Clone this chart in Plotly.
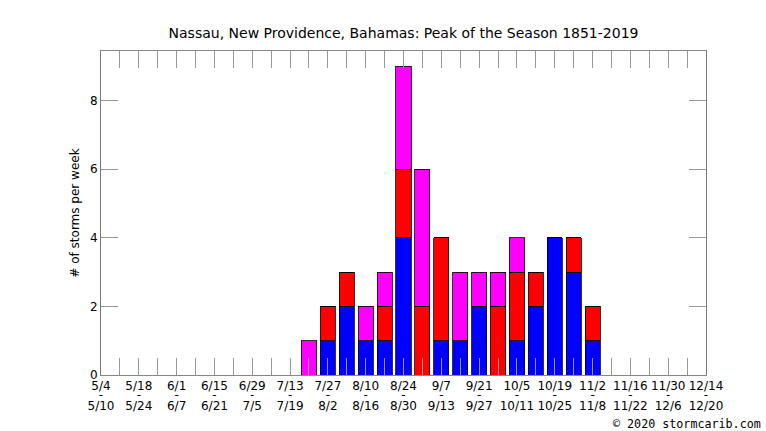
import plotly.graph_objects as go

# week index 0 = 5/4-5/10 ... 32 = 12/14-12/20
week_starts = ["5/4", "5/11", "5/18", "5/25", "6/1", "6/8", "6/15", "6/22", "6/29", "7/6",
               "7/13", "7/20", "7/27", "8/3", "8/10", "8/17", "8/24", "8/31", "9/7", "9/14",
               "9/21", "9/28", "10/5", "10/12", "10/19", "10/26", "11/2", "11/9", "11/16",
               "11/23", "11/30", "12/7", "12/14"]
week_ends = ["5/10", "5/17", "5/24", "5/31", "6/7", "6/14", "6/21", "6/28", "7/5", "7/12",
             "7/19", "7/26", "8/2", "8/9", "8/16", "8/23", "8/30", "9/6", "9/13", "9/20",
             "9/27", "10/4", "10/11", "10/18", "10/25", "11/1", "11/8", "11/15", "11/22",
             "11/29", "12/6", "12/13", "12/20"]

weeks = list(range(33))
blue = [0]*11 + [0, 1, 2, 1, 1, 4, 0, 1, 1, 2, 0, 1, 2, 4, 3, 1] + [0]*6
red = [0]*11 + [0, 1, 1, 0, 1, 2, 2, 3, 0, 0, 2, 2, 1, 0, 1, 1] + [0]*6
magenta = [0]*11 + [1, 0, 0, 1, 1, 3, 4, 0, 2, 1, 1, 1, 0, 0, 0, 0] + [0]*6

start_text = [s if i % 2 == 0 else "" for i, s in enumerate(week_starts)]
dash_text = ["-" if i % 2 == 0 else "" for i in weeks]
end_text = [e if i % 2 == 0 else "" for i, e in enumerate(week_ends)]

fig = go.Figure()
for vals, col in [(blue, "#0000FF"), (red, "#FF0000"), (magenta, "#FF00FF")]:
    fig.add_trace(go.Bar(x=weeks, y=vals, width=0.8,
                         marker=dict(color=col, line=dict(color="black", width=0.8)),
                         showlegend=False))
# invisible helpers so the overlay label axes are drawn
for ax in ["x2", "x3"]:
    fig.add_trace(go.Scatter(x=[0, 32], y=[0, 0], xaxis=ax, yaxis="y", mode="markers",
                             marker=dict(opacity=0), showlegend=False, hoverinfo="skip"))

label_axis = dict(range=[0, 32], tickmode="array", tickvals=weeks, ticks="",
                  showline=False, showgrid=False, zeroline=False, tickangle=0,
                  overlaying="x", anchor="y", side="bottom",
                  tickfont=dict(size=12, color="black", family="DejaVu Sans"))

fig.update_layout(
    barmode="stack",
    width=766, height=431,
    margin=dict(l=101, r=60, t=51, b=56),
    paper_bgcolor="white", plot_bgcolor="white",
    font=dict(family="DejaVu Sans", size=12, color="black"),
    title=dict(text="Nassau, New Providence, Bahamas: Peak of the Season 1851-2019",
               x=0.5, xref="paper", y=1 - 33/431, yref="container", yanchor="middle", xanchor="center",
               font=dict(size=14, family="DejaVu Sans", color="black")),
    xaxis=dict(range=[0, 32], tickmode="array", tickvals=weeks, ticktext=start_text,
               ticks="inside", ticklen=17, tickcolor="#999999", tickwidth=1,
               showline=True, linecolor="#888888", linewidth=1, mirror="ticks",
               showgrid=False, zeroline=False, tickangle=0, tickfont=dict(size=12),
               ticklabelstandoff=0),
    xaxis2=dict(label_axis, ticktext=dash_text, ticklabelstandoff=11),
    xaxis3=dict(label_axis, ticktext=end_text, ticklabelstandoff=22),
    yaxis=dict(range=[0, 9.45], tickmode="array", tickvals=[0, 2, 4, 6, 8],
               ticks="inside", ticklen=17, tickcolor="#999999", tickwidth=1,
               showline=True, linecolor="#777777", linewidth=1, mirror="ticks",
               showgrid=False, zeroline=False,
               title=dict(text="# of storms per week", standoff=7, font=dict(size=12))),
    annotations=[dict(text="© 2020 stormcarib.com", xref="paper", yref="paper",
                      x=(763-101)/605, y=-(424-375)/324, xanchor="right", yanchor="middle",
                      showarrow=False, font=dict(family="DejaVu Sans Mono", size=11.7, color="black"))],
)

fig.write_html("out.html", post_script="document.body.style.margin='0';",
               config={"displayModeBar": False})
